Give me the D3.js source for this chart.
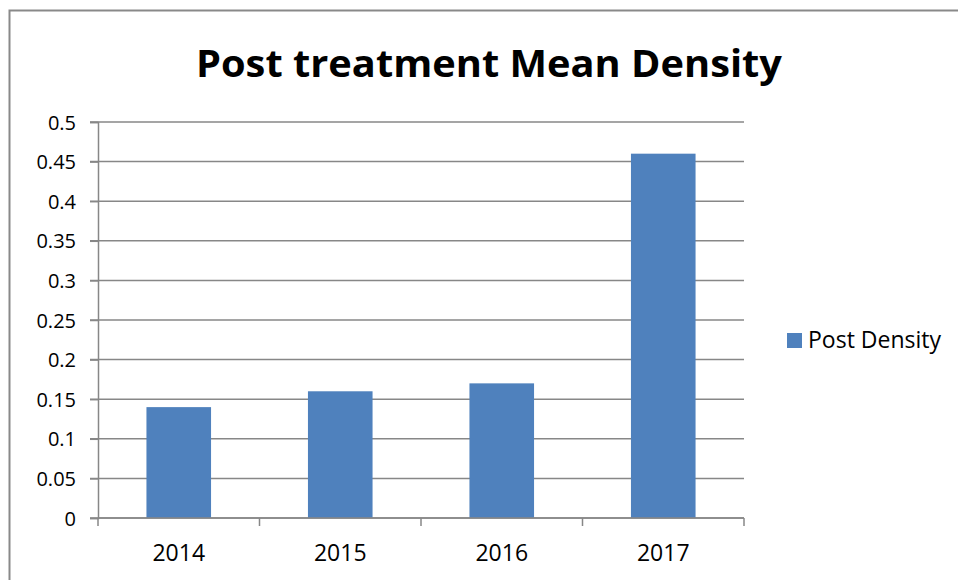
<!DOCTYPE html>
<html>
<head>
<meta charset="utf-8">
<script src="https://cdn.jsdelivr.net/npm/d3@7"></script>
<style>
  body { margin: 0; background: #fff; }
  text { font-family: "Open Sans", "DejaVu Sans", sans-serif; fill: #000; }
</style>
</head>
<body>
<svg id="chart" width="958" height="580"></svg>
<script>
var years = ["2014", "2015", "2016", "2017"];
var postDensity = [0.14, 0.16, 0.17, 0.46];
var yTicks = [0, 0.05, 0.1, 0.15, 0.2, 0.25, 0.3, 0.35, 0.4, 0.45, 0.5];
var seriesName = "Post Density";
var title = "Post treatment Mean Density";

var svg = d3.select("#chart");
var margin = {top: 122, left: 98, right: 214, bottom: 62};
var width = 958 - margin.left - margin.right;
var height = 580 - margin.top - margin.bottom;
var barColor = "#4f81bd";
var gridColor = "#878787";

// outer chart border (only left/top visible in the picture)
svg.append("rect")
  .attr("x", 9.5).attr("y", 10.5)
  .attr("width", 1000).attr("height", 1000)
  .attr("fill", "none")
  .attr("stroke", "#898989")
  .attr("stroke-width", 2);

svg.append("text")
  .attr("x", 489).attr("y", 77)
  .attr("text-anchor", "middle")
  .attr("font-weight", "bold")
  .attr("font-size", 38)
  .attr("textLength", 586)
  .attr("lengthAdjust", "spacingAndGlyphs")
  .text(title);

var g = svg.append("g").attr("transform", "translate(" + margin.left + "," + margin.top + ")");

var x = d3.scaleBand().domain(years).range([0, width]).paddingInner(0.6).paddingOuter(0.3);
var xCat = d3.scaleBand().domain(years).range([0, width]);
var y = d3.scaleLinear().domain([0, 0.5]).range([height, 0]);

// gridlines
g.append("g")
  .selectAll("line")
  .data(yTicks)
  .enter().append("line")
  .attr("x1", -8).attr("x2", width)
  .attr("y1", function(d) { return y(d); })
  .attr("y2", function(d) { return y(d); })
  .attr("stroke", gridColor)
  .attr("stroke-width", 1.5);

// y axis
var yAxis = g.append("g")
  .call(d3.axisLeft(y).tickValues(yTicks).tickSize(8).tickPadding(14).tickFormat(function(d) { return String(d); }));
yAxis.select(".domain").attr("stroke", gridColor).attr("stroke-width", 1.5);
yAxis.selectAll(".tick line").attr("stroke", gridColor).attr("stroke-width", 1.5);
yAxis.selectAll("text").attr("font-size", 20).attr("dy", "0.35em");

// bars
g.selectAll(".bar")
  .data(postDensity)
  .enter().append("rect")
  .attr("class", "bar")
  .attr("x", function(d, i) { return x(years[i]); })
  .attr("width", x.bandwidth())
  .attr("y", function(d) { return y(d); })
  .attr("height", function(d) { return height - y(d); })
  .attr("fill", barColor);

// x axis
var xAxisG = g.append("g").attr("transform", "translate(0," + height + ")");
xAxisG.append("line")
  .attr("x1", 0).attr("x2", width)
  .attr("stroke", gridColor).attr("stroke-width", 1.5);
xAxisG.selectAll(".tk")
  .data(d3.range(years.length + 1))
  .enter().append("line")
  .attr("x1", function(i) { return i * xCat.step(); })
  .attr("x2", function(i) { return i * xCat.step(); })
  .attr("y1", 0).attr("y2", 8)
  .attr("stroke", gridColor).attr("stroke-width", 1.5);
xAxisG.selectAll(".lbl")
  .data(years)
  .enter().append("text")
  .attr("x", function(d) { return xCat(d) + xCat.bandwidth() / 2; })
  .attr("y", 43)
  .attr("text-anchor", "middle")
  .attr("font-size", 23)
  .text(function(d) { return d; });

// legend
var legend = svg.append("g").attr("transform", "translate(787,333)");
legend.append("rect").attr("width", 15).attr("height", 15).attr("fill", barColor);
legend.append("text").attr("x", 21).attr("y", 15).attr("font-size", 23).text(seriesName);
</script>
</body>
</html>
